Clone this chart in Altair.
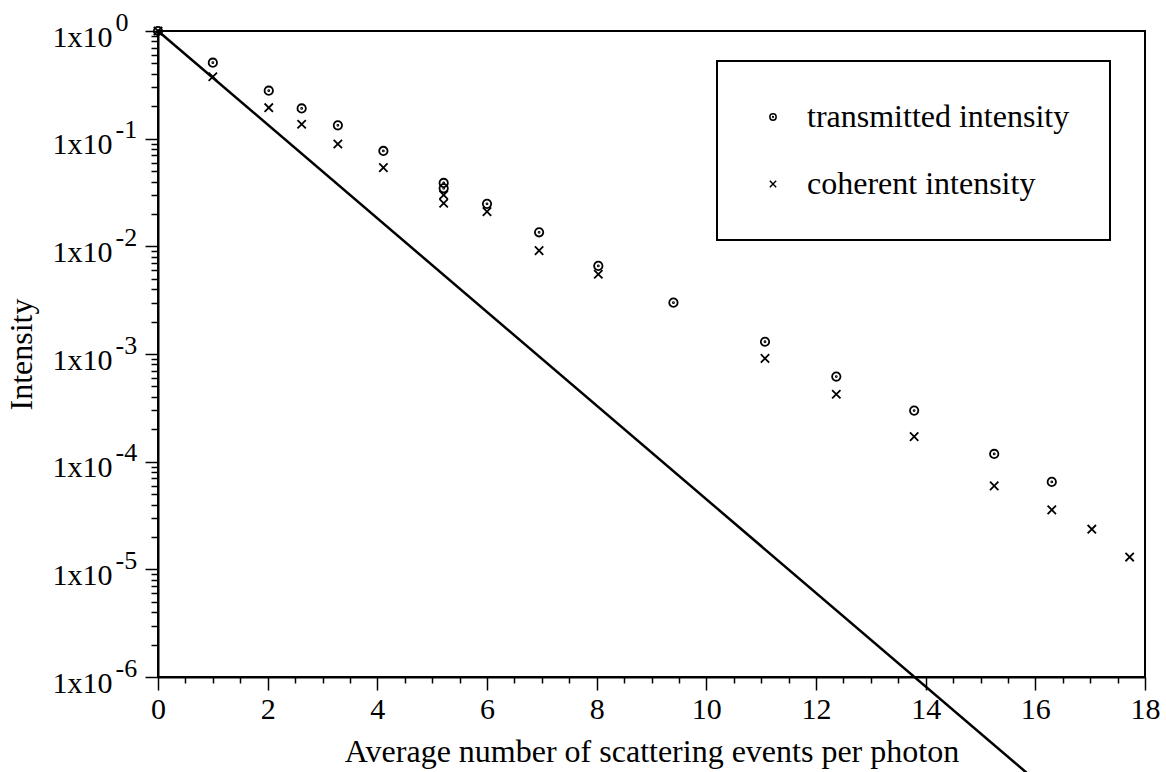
import altair as alt
import pandas as pd

# ---- data ----
trans_x = [0.0, 1.0, 2.02, 2.62, 3.28, 4.11, 5.21, 5.21, 6.0, 6.95, 8.03, 9.40, 11.07, 12.37, 13.79, 15.25, 16.30]
trans_y = [1.0, 0.508, 0.279, 0.191, 0.133, 0.0769, 0.0388, 0.0346, 0.0248, 0.0135, 0.00658, 0.0030, 0.0013,
           6.17e-4, 2.98e-4, 1.18e-4, 6.49e-5]
coh_x = [0.0, 1.0, 2.02, 2.62, 3.28, 4.11, 5.21, 5.21, 6.0, 6.95, 8.03, 11.07, 12.37, 13.79, 15.25, 16.30, 17.03, 17.72]
coh_y = [1.0, 0.376, 0.194, 0.136, 0.0893, 0.0538, 0.030, 0.0251, 0.021, 0.00912, 0.00551, 9.1e-4, 4.23e-4,
         1.71e-4, 5.96e-5, 3.57e-5, 2.36e-5, 1.30e-5]
line_x = [0.0, 16.0]
line_y = [1.0, 1.1e-7]

series_names = ["transmitted intensity", "coherent intensity"]
x_major = [0, 2, 4, 6, 8, 10, 12, 14, 16, 18]
x_minor = [0.5, 1, 1.5, 2.5, 3, 3.5, 4.5, 5, 5.5, 6.5, 7, 7.5, 8.5, 9, 9.5, 10.5, 11, 11.5,
           12.5, 13, 13.5, 14.5, 15, 15.5, 16.5, 17, 17.5]
y_major = [1, 0.1, 0.01, 0.001, 1e-4, 1e-5, 1e-6]
y_label_base = "1x10"
y_label_exp = ["0", "-1", "-2", "-3", "-4", "-5", "-6"]
y_minor = [m * 10.0 ** (-k) for k in range(1, 7) for m in range(2, 10)]

pts = pd.DataFrame({
    "x": trans_x + coh_x,
    "y": trans_y + coh_y,
    "series": [series_names[0]] * len(trans_x) + [series_names[1]] * len(coh_x),
})
line_df = pd.DataFrame({"x": line_x, "y": line_y})

FONT = "Liberation Serif"
circle_dot = ("M-1,0A1,1 0 1,0 1,0A1,1 0 1,0 -1,0Z"
              "M-0.12,0A0.12,0.12 0 1,0 0.12,0A0.12,0.12 0 1,0 -0.12,0Z")
cross = "M-1,-1L1,1M-1,1L1,-1"

xscale = alt.Scale(domain=[0, 18], nice=False, zero=False)
yscale = alt.Scale(type="log", domain=[1e-6, 1], nice=False)

exp_expr = "%s[round(-log(datum.value)/LN10)]" % str(y_label_exp).replace("'", '"')

common = dict(grid=False, labelFlush=False, labelOverlap=False)

line = alt.Chart(line_df).mark_line(color="black", strokeWidth=2.5, clip=False).encode(
    x=alt.X("x:Q", scale=xscale,
            axis=alt.Axis(orient="bottom", values=x_major, format="d",
                          title="Average number of scattering events per photon",
                          tickSize=13, tickWidth=1.5, labelPadding=4, titlePadding=12,
                          domainWidth=2, domainColor="black", tickColor="black", **common)),
    y=alt.Y("y:Q", scale=yscale,
            axis=alt.Axis(orient="left", values=y_major, labelExpr="'%s'" % y_label_base, title="Intensity",
                          tickSize=13, tickWidth=1.5, labelPadding=33, labelOffset=6, titlePadding=14,
                          domainWidth=2, domainColor="black", tickColor="black", **common)),
)

points = alt.Chart(pts).mark_point(filled=False, color="black", strokeWidth=1.8, size=70, opacity=1).encode(
    x=alt.X("x:Q", scale=xscale, axis=None),
    y=alt.Y("y:Q", scale=yscale, axis=None),
    shape=alt.Shape("series:N",
                    scale=alt.Scale(domain=series_names, range=[circle_dot, cross]),
                    legend=alt.Legend(title=None, orient="none", legendX=559, legendY=30,
                                      strokeColor="black", padding=40, rowPadding=35,
                                      symbolSize=40, symbolStrokeWidth=1.5, symbolStrokeColor="black",
                                      symbolOffset=0, labelOffset=18, labelFontSize=32, labelFont=FONT,
                                      labelColor="black", labelLimit=600)),
)

minor = alt.Chart(line_df).mark_point(opacity=0).encode(
    x=alt.X("x:Q", scale=xscale,
            axis=alt.Axis(orient="bottom", values=x_minor, labels=False, domain=False,
                          tickSize=6, tickWidth=1.5, tickColor="black", title=None, **common)),
    y=alt.Y("y:Q", scale=yscale,
            axis=alt.Axis(orient="left", values=y_minor, labels=False, domain=False,
                          tickSize=7, tickWidth=1.5, tickColor="black", title=None, **common)),
)

sup = alt.Chart(line_df).mark_point(opacity=0).encode(
    y=alt.Y("y:Q", scale=yscale,
            axis=alt.Axis(orient="left", values=y_major, labelExpr=exp_expr, domain=False,
                          tickSize=13, tickOpacity=0, labelPadding=30, labelAlign="left",
                          labelOffset=-9, labelFontSize=26, title=None, **common)),
)

chart = alt.layer(line, points, minor, sup).resolve_axis(x="independent", y="independent").properties(
    width=987, height=646,
    autosize=alt.AutoSizeParams(type="none"),
    padding={"left": 158, "top": 31, "right": 21, "bottom": 95},
).configure_view(stroke="black", strokeWidth=2).configure_axis(
    labelFont=FONT, titleFont=FONT, labelFontSize=30, titleFontSize=32,
    labelColor="black", titleColor="black", titleFontWeight="normal",
).configure_legend(strokeWidth=2)

chart.save("out.html", embed_options={"renderer": "svg", "actions": False})
